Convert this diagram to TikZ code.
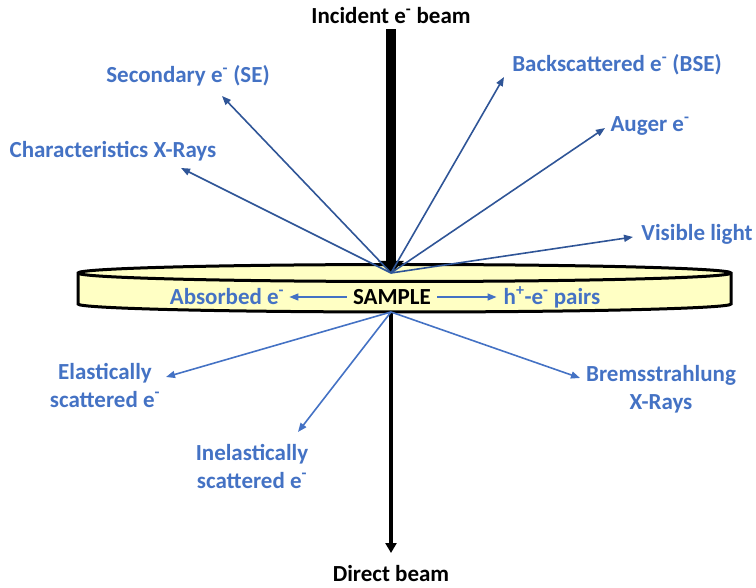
\documentclass[tikz,border=0pt]{standalone}
\usepackage{fontspec}
\setmainfont{Carlito}
\usetikzlibrary{arrows.meta,positioning}
\definecolor{LabelBlue}{HTML}{4472C4}
\definecolor{RayBlue}{HTML}{2F5597}
\definecolor{SampleFill}{HTML}{FFFFC4}
\newcommand{\elec}{e\textsuperscript{-}}

\begin{document}
\begin{tikzpicture}[
  x=1pt, y=-1pt,
  lbl/.style={font=\bfseries\fontsize{23}{28}\selectfont, text=LabelBlue, align=center, inner sep=1pt},
  blk/.style={lbl, text=black},
  ray/.style={-{Triangle[length=9pt, width=7pt]}, line width=1.6pt, RayBlue},
  lowray/.style={ray, LabelBlue},
  beam/.style={-{Triangle[length=12pt, width=25pt]}, line width=10pt},
  outbeam/.style={-{Triangle[length=10pt, width=11pt]}, line width=3.5pt}
]
  \useasboundingbox (0,0) rectangle (756,588);

  % sample disc (y axis points down, so angles run the other way)
  \draw[line width=3pt, fill=SampleFill]
    (78,273) -- (78,304) arc[start angle=180, end angle=0, x radius=326.5, y radius=8]
    -- (731,273) arc[start angle=0, end angle=-180, x radius=326.5, y radius=8.5] -- cycle;
  \draw[line width=3pt] (78,273) arc[start angle=180, end angle=0, x radius=326.5, y radius=8.5];

  \coordinate (hit) at (391,273);
  \coordinate (exit) at (391,312);

  % beams
  \node[blk] (inc) at (391,16) {Incident \elec{} beam};
  \node[blk] (direct) at (391,574) {Direct beam};
  \draw[outbeam] (exit) -- (391,553) coordinate (directTip);
  \draw[beam, shorten <=4pt] (inc.south) -- (hit);

  % labels above
  \node[lbl] (se) at (188,76) {Secondary \elec{} (SE)};
  \node[lbl] (xray) at (113,151) {Characteristics X-Rays};
  \node[lbl] (bse) at (617,65) {Backscattered \elec{} (BSE)};
  \node[lbl] (auger) at (650,126) {Auger \elec};
  \node[lbl] (light) at (697,234) {Visible light};

  \coordinate (seTip) at (222,96);
  \coordinate (xrayTip) at (181,168);
  \coordinate (bseTip) at (504,77);
  \coordinate (augerTip) at (605,128);
  \coordinate (lightTip) at (633,237);

  \foreach \t in {seTip,xrayTip,bseTip,augerTip,lightTip}
    \draw[ray] (hit) -- (\t);

  % inside the sample
  \node[blk] (sample) at (392,297) {SAMPLE};
  \node[lbl] (absorbed) at (227,297) {Absorbed \elec};
  \node[lbl] (pairs) at (552,297) {h\textsuperscript{+}-\elec{} pairs};
  \draw[lowray, line width=1.4pt, shorten <=5pt, shorten >=4pt] (sample.west) -- (absorbed.east);
  \draw[lowray, line width=1.4pt, shorten <=5pt, shorten >=6pt] (sample.east) -- (pairs.west);

  % labels below
  \node[lbl] (elastic) at (105,385) {Elastically\\scattered \elec};
  \node[lbl] (inelastic) at (252,466) {Inelastically\\scattered \elec};
  \node[lbl] (brems) at (661,389) {Bremsstrahlung\\X-Rays};

  \coordinate (elasticTip) at (166,377);
  \coordinate (inelasticTip) at (298,432);
  \coordinate (bremsTip) at (580,378);

  \foreach \t in {elasticTip,inelasticTip,bremsTip}
    \draw[lowray] (exit) -- (\t);
\end{tikzpicture}
\end{document}
